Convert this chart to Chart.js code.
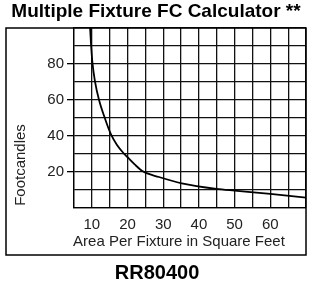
<!DOCTYPE html>
<html>
<head>
<meta charset="utf-8">
<script src="https://cdn.jsdelivr.net/npm/chart.js@4/dist/chart.umd.min.js"></script>
<style>
    html, body { margin: 0; padding: 0; background: #fff; }
    #wrap { position: relative; width: 314px; height: 284px; }
</style>
</head>
<body>
<div id="wrap"><canvas id="chart"></canvas></div>
<script>
// Curve
const areas = [9.4, 9.8, 10.2, 10.9, 12.0, 13.6, 15.3, 17, 19, 20, 22, 24.4, 28.8, 35.2, 44.9, 50, 60, 70];
const footcandles = [104, 90, 80, 70, 60, 50, 41, 35, 30, 28, 24, 20, 17, 13.5, 10.4, 9.4, 7.6, 5.5];

const xLabels = [10, 20, 30, 40, 50, 60];
const yLabels = [20, 40, 60, 80];

const chartTitle = 'Multiple Fixture FC Calculator **';
const chartSubtitle = 'RR80400';
const xTitle = 'Area Per Fixture in Square Feet';
const yTitle = 'Footcandles';

const FONT = '"Liberation Sans", Arial, sans-serif';

// Titles and outer frame
const framePlugin = {
    id: 'frame',
    afterDraw(chart) {
        const ctx = chart.ctx;
        const area = chart.chartArea;
        ctx.save();
        ctx.strokeStyle = '#000';
        ctx.lineWidth = 1.5;
        ctx.strokeRect(6, area.top, area.right - 6, 255 - area.top);

        ctx.fillStyle = '#000';
        ctx.textAlign = 'center';
        ctx.textBaseline = 'middle';
        ctx.font = 'bold 19px ' + FONT;
        ctx.fillText(chartTitle, 156, 12);
        ctx.font = 'bold 20px ' + FONT;
        ctx.fillText(chartSubtitle, 157, 273);

        ctx.fillStyle = '#222';
        ctx.font = '15px ' + FONT;
        ctx.fillText(xTitle, 179, 242);
        ctx.translate(21, 165);
        ctx.rotate(-Math.PI / 2);
        ctx.fillText(yTitle, 0, 0);
        ctx.restore();
    }
};

new Chart(document.getElementById('chart'), {
    type: 'line',
    data: {
        datasets: [{
            data: areas.map((a, i) => ({ x: a, y: footcandles[i] })),
            borderColor: '#000',
            borderWidth: 1.8,
            pointRadius: 0,
            cubicInterpolationMode: 'monotone',
            fill: false
        }]
    },
    options: {
        responsive: true,
        maintainAspectRatio: false,
        animation: false,
        events: [],
        layout: { padding: { top: 28, right: 5, left: 0, bottom: 0 } },
        plugins: {
            legend: { display: false },
            tooltip: { enabled: false }
        },
        scales: {
            x: {
                type: 'linear',
                min: 5,
                max: 70,
                afterFit: s => { s.height = 76.5; },
                border: { color: '#000', width: 1.3 },
                grid: { color: '#111', lineWidth: 1.3, drawTicks: false },
                ticks: {
                    stepSize: 5,
                    autoSkip: false,
                    maxRotation: 0,
                    padding: 8,
                    color: '#222',
                    font: { family: FONT, size: 15 },
                    callback: v => xLabels.includes(v) ? String(v) : ''
                }
            },
            y: {
                min: 0,
                max: 100,
                afterFit: s => { s.width = 74; },
                border: { color: '#000', width: 1.3 },
                grid: {
                    color: '#111',
                    lineWidth: 1.3,
                    tickLength: 7,
                    tickColor: c => yLabels.includes(c.tick && c.tick.value) ? '#000' : 'rgba(0,0,0,0)'
                },
                ticks: {
                    stepSize: 10,
                    autoSkip: false,
                    padding: 3,
                    color: '#222',
                    font: { family: FONT, size: 15 },
                    callback: v => yLabels.includes(v) ? String(v) : ''
                }
            }
        }
    },
    plugins: [framePlugin]
});
</script>
</body>
</html>
